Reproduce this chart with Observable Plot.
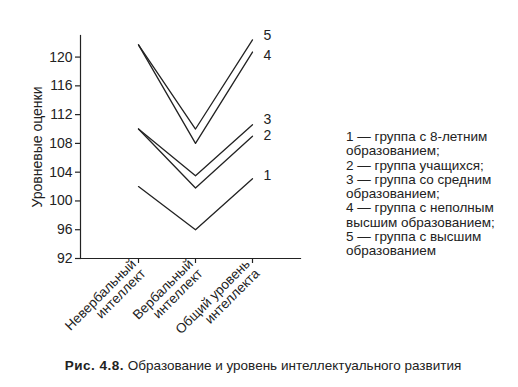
<!DOCTYPE html>
<html><head><meta charset="utf-8">
<script src="https://cdn.jsdelivr.net/npm/d3@7"></script>
<script src="https://cdn.jsdelivr.net/npm/@observablehq/plot@0.6"></script>
<style>
body{margin:0;background:#fff;font-family:"Liberation Sans",Arial,sans-serif;color:#222;}
#wrap{position:relative;width:518px;height:387px;}
#chart{position:absolute;left:0;top:0;}
#legend{position:absolute;left:346px;top:130px;font-size:13.5px;line-height:14.25px;color:#222;}
#caption{position:absolute;left:0;width:526px;top:358px;text-align:center;font-size:13.5px;color:#222;}
</style></head>
<body><div id="wrap"><div id="chart"></div>
<div id="legend"></div>
<div id="caption"><b style="letter-spacing:0.5px">Рис. 4.8.</b> Образование и уровень интеллектуального развития</div></div>
<script>
const categories = ["Невербальный\nинтеллект", "Вербальный\nинтеллект", "Общий уровень\nинтеллекта"];
const groups = ["1", "2", "3", "4", "5"];
const series1 = [102.0, 96.0, 103.1];
const series2 = [110.0, 101.8, 109.0];
const series3 = [110.0, 103.5, 110.6];
const series4 = [121.7, 108.0, 120.7];
const series5 = [121.7, 110.0, 122.4];
const labelNudge = [0.4, 0.15, 0.7, -0.55, 0.55];
const yTicks = [92, 96, 100, 104, 108, 112, 116, 120];
const legendLines = [
  "1 — группа с 8-летним", "образованием;", "2 — группа учащихся;",
  "3 — группа со средним", "образованием;", "4 — группа с неполным",
  "высшим образованием;", "5 — группа с высшим", "образованием"
];

const allSeries = [series1, series2, series3, series4, series5];
const rows = [];
allSeries.forEach((s, i) => s.forEach((v, j) => rows.push({group: groups[i], cat: categories[j], value: v})));
const ends = allSeries.map((s, i) => ({group: groups[i], cat: categories[2], value: s[2] + labelNudge[i]}));

const ink = "#222";
const chart = Plot.plot({
  width: 518, height: 340,
  marginLeft: 80, marginRight: 218, marginTop: 35, marginBottom: 82,
  style: {fontFamily: "Liberation Sans, Arial, sans-serif", fontSize: "13px", color: ink, background: "transparent"},
  x: {type: "point", domain: categories, range: [138, 252], padding: 0},
  y: {domain: [92, 123]},
  marks: [
    Plot.frame({anchor: "left", stroke: ink, strokeWidth: 1.2}),
    Plot.frame({anchor: "bottom", stroke: ink, strokeWidth: 1.2}),
    Plot.axisY({ticks: yTicks, tickSize: 5, tickPadding: 3, label: "Уровневые оценки", labelAnchor: "center", labelArrow: "none", labelOffset: 48, fontSize: 14, stroke: ink, strokeWidth: 1.2}),
    Plot.axisX({tickSize: 5, tickRotate: -45, tickPadding: 3, label: null, fontSize: 13.5, stroke: ink, strokeWidth: 1.2}),
    Plot.line(rows, {x: "cat", y: "value", z: "group", stroke: ink, strokeWidth: 1.3}),
    Plot.text(ends, {x: "cat", y: "value", text: "group", dx: 11, textAnchor: "start", fontSize: 14, fill: ink})
  ]
});
document.getElementById("chart").appendChild(chart);
document.getElementById("legend").innerHTML = legendLines.map(l => `<div>${l}</div>`).join("");
</script></body></html>
